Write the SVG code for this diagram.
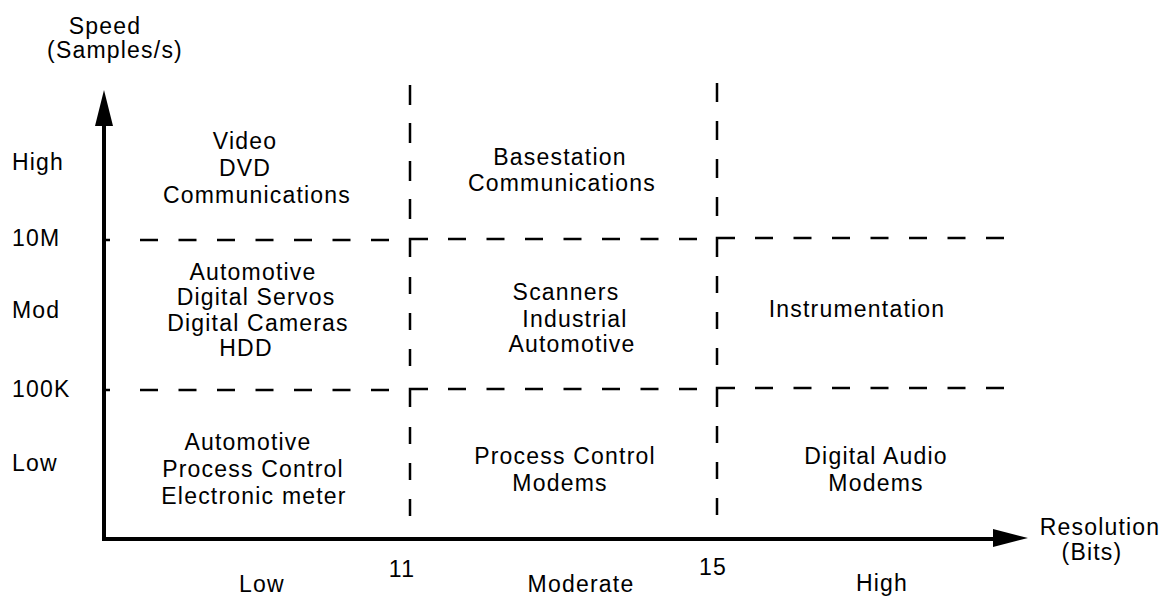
<svg xmlns="http://www.w3.org/2000/svg" width="1160" height="597" viewBox="0 0 1160 597">
<defs>
<style>
text{font-family:"Liberation Sans",Arial,sans-serif;font-size:23px;letter-spacing:1.2px;fill:#000}
.c{text-anchor:middle}
.d{stroke:#000;stroke-width:2.5;fill:none}
.ax{stroke:#000;stroke-width:4;fill:none}
</style>
</defs>
<rect width="1160" height="597" fill="#fff"/>
<g id="connectors">
<line class="ax" x1="104" y1="541" x2="104" y2="122"/>
<polygon points="104,90 95,126 113,126" fill="#000"/>
<line class="ax" x1="102" y1="539" x2="996" y2="539"/>
<polygon points="1028,538 993,529 993,547" fill="#000"/>
<g id="grid">
<line class="d" x1="103" y1="240" x2="110" y2="240"/>
<line class="d" x1="140" y1="240" x2="391" y2="240" stroke-dasharray="18 20.5"/>
<path class="d" d="M410,257V239H428"/>
<line class="d" x1="448" y1="239" x2="699" y2="239" stroke-dasharray="18 20.5"/>
<path class="d" d="M717,257V238H735"/>
<line class="d" x1="755" y1="238" x2="1006" y2="238" stroke-dasharray="18 20.5"/>
<line class="d" x1="103" y1="390" x2="110" y2="390"/>
<line class="d" x1="140" y1="390" x2="391" y2="390" stroke-dasharray="18 20.5"/>
<path class="d" d="M410,407V389H428"/>
<line class="d" x1="448" y1="389" x2="699" y2="389" stroke-dasharray="18 20.5"/>
<path class="d" d="M717,407V388H735"/>
<line class="d" x1="755" y1="388" x2="1006" y2="388" stroke-dasharray="18 20.5"/>
<line class="d" x1="410" y1="85" x2="410" y2="220" stroke-dasharray="20 18"/>
<line class="d" x1="410" y1="277" x2="410" y2="368" stroke-dasharray="17 19"/>
<line class="d" x1="410" y1="427" x2="410" y2="518" stroke-dasharray="17 19"/>
<line class="d" x1="717" y1="83" x2="717" y2="218" stroke-dasharray="19 19"/>
<line class="d" x1="717" y1="276" x2="717" y2="367" stroke-dasharray="17 19"/>
<line class="d" x1="717" y1="426" x2="717" y2="517" stroke-dasharray="17 19"/>
</g>
</g>
<g id="axis-labels">
<text class="c" x="105" y="34">Speed</text>
<text class="c" x="115" y="58">(Samples/s)</text>
<text x="12" y="170">High</text>
<text x="12" y="246">10M</text>
<text x="12" y="318">Mod</text>
<text x="12" y="397">100K</text>
<text x="12" y="471">Low</text>
<text class="c" x="262" y="592">Low</text>
<text class="c" x="402" y="577">11</text>
<text class="c" x="581" y="592">Moderate</text>
<text class="c" x="713" y="575">15</text>
<text class="c" x="882" y="591">High</text>
<text class="c" x="1100" y="535">Resolution</text>
<text class="c" x="1092" y="560">(Bits)</text>
</g>
<g id="cell-high-low">
<text class="c" x="245" y="149">Video</text>
<text class="c" x="245" y="176">DVD</text>
<text class="c" x="257" y="203">Communications</text>
</g>
<g id="cell-high-mod">
<text class="c" x="560" y="165">Basestation</text>
<text class="c" x="562" y="191">Communications</text>
</g>
<g id="cell-mod-low">
<text class="c" x="253" y="280">Automotive</text>
<text class="c" x="256" y="305">Digital Servos</text>
<text class="c" x="258" y="331">Digital Cameras</text>
<text class="c" x="246" y="356">HDD</text>
</g>
<g id="cell-mod-mod">
<text class="c" x="566" y="300">Scanners</text>
<text class="c" x="575" y="327">Industrial</text>
<text class="c" x="572" y="352">Automotive</text>
</g>
<g id="cell-mod-high">
<text class="c" x="857" y="317">Instrumentation</text>
</g>
<g id="cell-low-low">
<text class="c" x="248" y="450">Automotive</text>
<text class="c" x="253" y="477">Process Control</text>
<text class="c" x="254" y="504">Electronic meter</text>
</g>
<g id="cell-low-mod">
<text class="c" x="565" y="464">Process Control</text>
<text class="c" x="560" y="491">Modems</text>
</g>
<g id="cell-low-high">
<text class="c" x="876" y="464">Digital Audio</text>
<text class="c" x="876" y="491">Modems</text>
</g>
</svg>
